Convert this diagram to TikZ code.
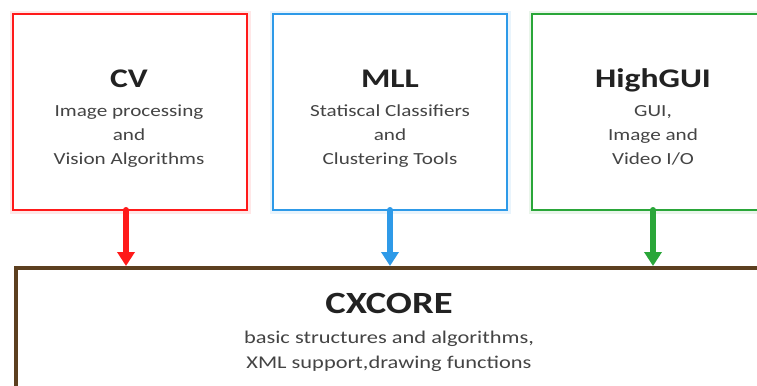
\documentclass[tikz,border=0pt]{standalone}
\usepackage{fontspec}
\setmainfont{Carlito}[FakeStretch=1.25]
\usetikzlibrary{arrows.meta}
\definecolor{cvred}{HTML}{FF1A1A}
\definecolor{mllblue}{HTML}{2E9AE8}
\definecolor{guigreen}{HTML}{2AA639}
\definecolor{corebrown}{HTML}{5C3F1F}
\definecolor{titlecol}{HTML}{222222}
\definecolor{subcol}{HTML}{444444}
\setlength{\tabcolsep}{0pt}
\newcommand{\sublines}[1]{\begin{tabular}[t]{c}#1\end{tabular}}
\tikzset{
  modbox/.style={draw=#1, line width=2bp, fill=white, minimum width=234bp, minimum height=196bp, inner sep=0pt},
  glow/.style={draw=#1, line width=7bp, draw opacity=0.10},
  titletext/.style={anchor=base, inner sep=0pt, text=titlecol, font=\fontsize{27}{30}\selectfont\bfseries},
  subtext/.style={anchor=base, inner sep=0pt, text=subcol, font=\fontsize{17}{24.5}\selectfont},
  deparrow/.style={draw=#1, line width=6bp, line cap=round, -{Triangle[width=17bp,length=14bp]}},
}
\begin{document}
\begin{tikzpicture}[x=1bp,y=-1bp]
\useasboundingbox (0,0) rectangle (757,385);
\clip (0,0) rectangle (757,385);
\fill[white] (0,0) rectangle (757,385);
% glows
\draw[glow=cvred] (13,14) rectangle (247,210);
\draw[glow=mllblue] (273,14) rectangle (507,210);
\draw[glow=guigreen] (532,14) rectangle (766,210);
% boxes
\node[modbox=cvred] (cv) at (130,112) {};
\node[modbox=mllblue] (mll) at (390,112) {};
\node[modbox=guigreen] (gui) at (649,112) {};
\node[draw=corebrown, line width=4bp, fill=white, minimum width=780bp, minimum height=160bp, inner sep=0pt, anchor=north west] (core) at (14,266) {};
% texts
\node[titletext] (cvt) at (129,87) {CV};
\node[subtext] (cvs) at (129,116) {\sublines{Image processing\\and\\Vision Algorithms}};
\node[titletext] (mllt) at (390,87) {MLL};
\node[subtext] (mlls) at (390,116) {\sublines{Statiscal Classifiers\\and\\Clustering Tools}};
\node[titletext] (guit) at (653,87) {HighGUI};
\node[subtext] (guis) at (653,116) {\sublines{GUI,\\Image and\\Video I/O}};
\node[titletext, font=\fontsize{31}{34}\selectfont\bfseries] (coret) at (389,313) {CXCORE};
\node[subtext, font=\fontsize{18}{26}\selectfont] (cores) at (389,343) {\sublines{basic structures and algorithms,\\XML support,drawing functions}};
% arrows
\coordinate (cvin) at (126,266);
\coordinate (mllin) at (390,266);
\coordinate (guiin) at (653,266);
\draw[deparrow=cvred] (126,210) -- (cvin);
\draw[deparrow=mllblue] (390,210) -- (mllin);
\draw[deparrow=guigreen] (653,210) -- (guiin);
\end{tikzpicture}
\end{document}
